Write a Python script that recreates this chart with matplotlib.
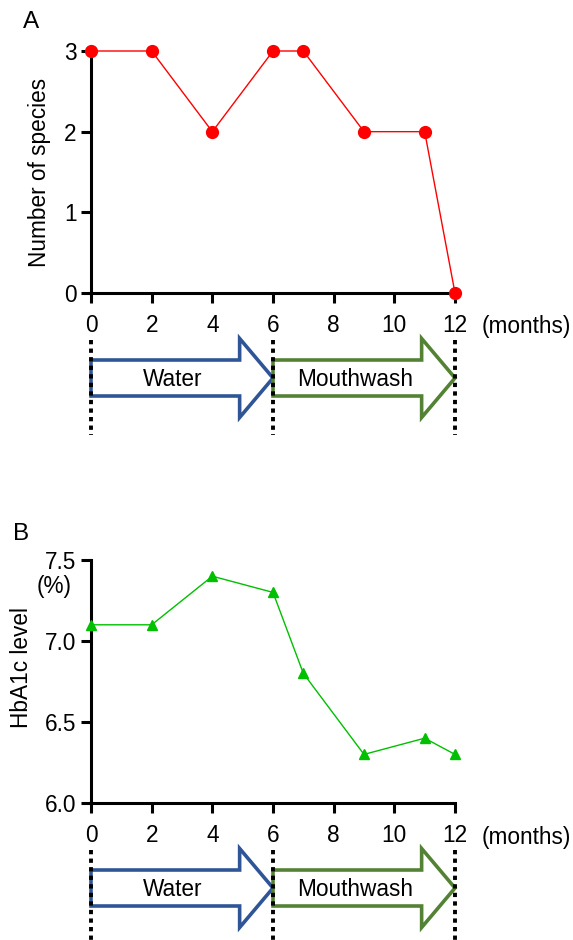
import matplotlib
matplotlib.use("Agg")
import matplotlib.pyplot as plt
from matplotlib.patches import Polygon

plt.rcParams['font.family'] = ['Liberation Sans', 'DejaVu Sans']

# ---------- data -----------------------------------------------------------
months = [0, 2, 4, 6, 7, 9, 11, 12]
species = [3, 3, 2, 3, 3, 2, 2, 0]
hba1c = [7.1, 7.1, 7.4, 7.3, 6.8, 6.3, 6.4, 6.3]
xticks = [0, 2, 4, 6, 8, 10, 12]
phases = [('Water', 0, 6, '#2F5597'), ('Mouthwash', 6, 12, '#548235')]

W, H = 573, 940
fig = plt.figure(figsize=(W / 100, H / 100), dpi=100)
FS = 16.3


def px(x0, y0, x1, y1):
    # pixel box -> figure fraction rect
    return [x0 / W, 1 - y1 / H, (x1 - x0) / W, (y1 - y0) / H]


def style(ax):
    for s in ['top', 'right']:
        ax.spines[s].set_visible(False)
    for s in ['left', 'bottom']:
        ax.spines[s].set_linewidth(2.2)
    ax.tick_params(width=2.2, length=7.5, labelsize=FS, direction='out')
    ax.tick_params(axis='x', pad=7.5)
    ax.tick_params(axis='y', pad=3)
    ax.set_xlim(0, 12)
    ax.set_xticks(xticks)
    ax.text(1.074, -0.14, '(months)', transform=ax.transAxes,
            fontsize=FS, ha='left', va='center')


def arrows(axis_y):
    # arrow strip below the x axis, y in pixel offsets from arrow centre
    centre = axis_y + 85
    ax = fig.add_axes(px(91, centre - 45, 455, centre + 57))
    ax.set_xlim(0, 12)
    ax.set_ylim(57, -45)
    ax.axis('off')
    for name, a, b, col in phases:
        head = b - 1.1
        body, hw = 18, 39.5
        pts = [(a, -body), (head, -body), (head, -hw), (b, 0),
               (head, hw), (head, body), (a, body)]
        ax.add_patch(Polygon(pts, closed=True, fill=False, edgecolor=col,
                             linewidth=2.6, joinstyle='miter', clip_on=False))
        ax.text(a + 2.7, 2, name, fontsize=FS, ha='center',
                va='center')
    for x in [0, 6, 12]:
        ax.plot([x, x], [-38, 57], color='black', lw=2.8,
                ls=(0, (1.1, 1.1)), clip_on=False)


# ---------- panel A --------------------------------------------------------
axA = fig.add_axes(px(91, 51, 455, 293))
axA.plot(months, species, color='#FF0000', lw=1, marker='o', ms=8.5,
         clip_on=False, zorder=5)
axA.set_ylim(0, 3)
axA.set_yticks([0, 1, 2, 3])
style(axA)
fig.text(40 / W, 1 - 172 / H, 'Number of species', rotation=90,
         fontsize=FS, ha='center', va='center')
fig.text(31 / W, 1 - 22 / H, 'A', fontsize=17.5, ha='center', va='center')
arrows(293)

# ---------- panel B --------------------------------------------------------
axB = fig.add_axes(px(91, 560, 455, 803))
axB.plot(months, hba1c, color='#00C000', lw=1, marker='^', ms=6.5,
         clip_on=False, zorder=5)
axB.set_ylim(6.0, 7.5)
axB.set_yticks([6.0, 6.5, 7.0, 7.5])
axB.set_yticklabels(['6.0', '6.5', '7.0', '7.5'])
style(axB)
fig.text(22 / W, 1 - 668 / H, 'HbA1c level', rotation=90,
         fontsize=FS, ha='center', va='center')
fig.text(54 / W, 1 - 587 / H, '(%)', fontsize=FS, ha='center', va='center')
fig.text(21 / W, 1 - 534 / H, 'B', fontsize=17.5, ha='center', va='center')
arrows(803)

fig.savefig('out.png', dpi=100)
